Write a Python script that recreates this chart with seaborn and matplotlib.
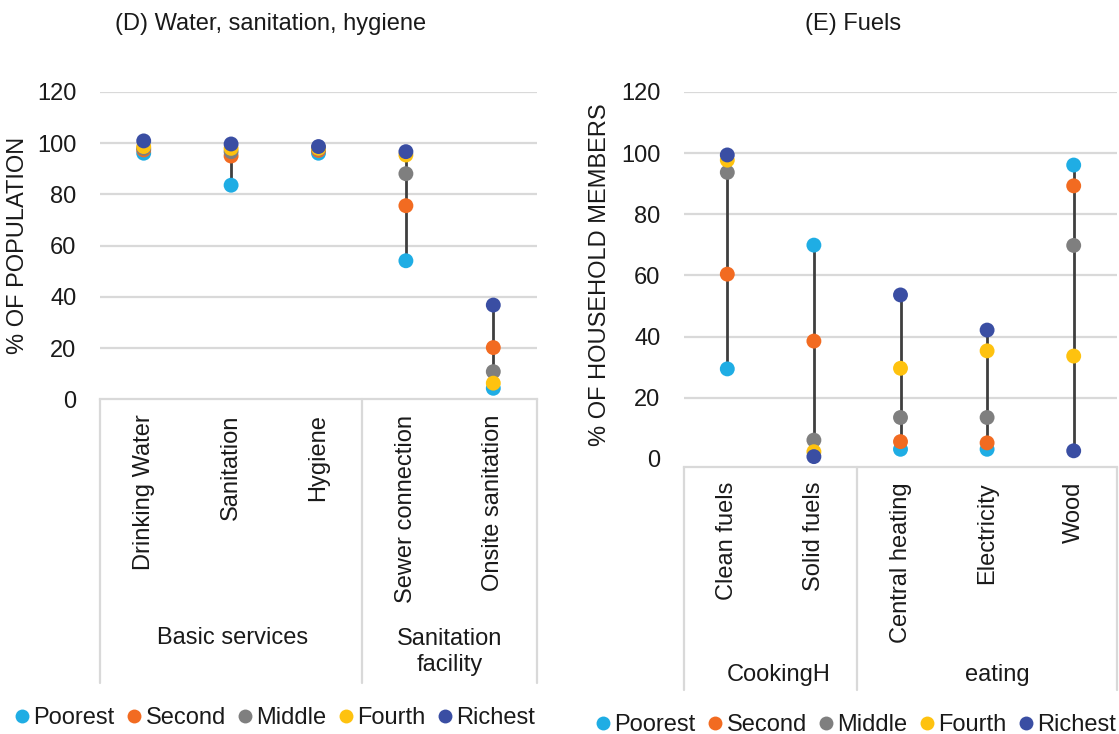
import numpy as np
import pandas as pd
import matplotlib
matplotlib.use("Agg")
import matplotlib.pyplot as plt
import matplotlib.transforms as mtrans
from matplotlib.lines import Line2D
import seaborn as sns

# ---------------- data ----------------
quintiles = ["Poorest", "Second", "Middle", "Fourth", "Richest"]
quintile_colors = ["#1FADE4", "#F26B21", "#7F7F7F", "#FEC20F", "#3A4EA3"]

wash_categories = ["Drinking Water", "Sanitation", "Hygiene", "Sewer connection", "Onsite sanitation"]
wash_groups = ["Basic services", "Sanitation\nfacility"]
wash_group_spans = [(0, 3), (3, 5)]
wash_poorest = [96.1, 83.6, 96.1, 54.1, 4.3]
wash_second = [97.4, 95.0, 97.2, 75.6, 20.2]
wash_middle = [98.0, 96.7, 97.8, 88.1, 10.8]
wash_fourth = [98.7, 98.0, 98.0, 95.4, 6.3]
wash_richest = [100.9, 99.7, 98.7, 96.7, 36.8]

fuel_categories = ["Clean fuels", "Solid fuels", "Central heating", "Electricity", "Wood"]
fuel_groups = ["CookingH", "eating"]
fuel_group_spans = [(0, 2), (2, 5)]
fuel_poorest = [29.4, 69.9, 3.1, 3.1, 96.1]
fuel_second = [60.4, 38.5, 5.6, 5.2, 89.3]
fuel_middle = [93.7, 6.1, 13.5, 13.5, 69.8]
fuel_fourth = [97.7, 2.3, 29.6, 35.3, 33.6]
fuel_richest = [99.4, 0.7, 53.6, 42.1, 2.6]

y_ticks = [0, 20, 40, 60, 80, 100, 120]

# ---------------- style ----------------
sns.set_theme(style="white")
plt.rcParams["font.family"] = ["Liberation Sans", "DejaVu Sans"]
TXT = "#1a1a1a"
GRID = "#D9D9D9"
FS = 17.0

W, H = 1119, 734
fig = plt.figure(figsize=(W / 100, H / 100), dpi=100)


def px_axes(x0, y0, x1, y1):
    return fig.add_axes([x0 / W, 1 - y1 / H, (x1 - x0) / W, (y1 - y0) / H])


def make_df(cats, series):
    rows = []
    for q, vals in zip(quintiles, series):
        for i, (c, v) in enumerate(zip(cats, vals)):
            rows.append({"pos": i, "category": c, "quintile": q, "value": v})
    return pd.DataFrame(rows)


def panel(ax, cats, series, groups, spans, ymin, box_bottom_frac, group_label_pos):
    df = make_df(cats, series)
    ax.set_xlim(-0.5, len(cats) - 0.5)
    ax.set_ylim(ymin, 120)
    for t in y_ticks[1:]:
        ax.axhline(t, color=GRID, lw=1.6, zorder=0)
    rng = df.groupby("pos")["value"].agg(["min", "max"])
    ax.vlines(rng.index, rng["min"], rng["max"], color="#3f3f3f", lw=2.0, zorder=2)
    sns.scatterplot(data=df, x="pos", y="value", hue="quintile", hue_order=quintiles,
                    palette=quintile_colors, s=115, edgecolor="none", linewidth=0,
                    legend=False, ax=ax, zorder=3)
    for sp in ["top", "right", "left"]:
        ax.spines[sp].set_visible(False)
    ax.spines["bottom"].set_color(GRID)
    ax.spines["bottom"].set_linewidth(1.6)
    ax.set_xlabel("")
    ax.set_ylabel("")
    ax.set_yticks(y_ticks)
    ax.set_yticklabels([str(t) for t in y_ticks], fontsize=FS, color=TXT)
    ax.set_xticks(range(len(cats)))
    ax.set_xticklabels(cats, rotation=90, fontsize=FS, color=TXT, va="top")
    ax.tick_params(axis="both", length=0)
    ax.tick_params(axis="y", pad=17)
    ax.tick_params(axis="x", pad=11)
    trans = mtrans.blended_transform_factory(ax.transData, ax.transAxes)
    bounds = sorted(set([s for s, e in spans] + [e for s, e in spans]))
    for b in bounds:
        ax.plot([b - 0.5, b - 0.5], [0, box_bottom_frac], transform=trans, color=GRID,
                lw=1.6, clip_on=False, zorder=1)
    for g, (s, e), (gx, gy) in zip(groups, spans, group_label_pos):
        fig.text(gx / W, 1 - gy / H, g, ha="center", va="center", fontsize=FS,
                 color=TXT, linespacing=1.2)


ax1 = px_axes(100, 92, 537, 399.3)
panel(ax1, wash_categories,
      [wash_poorest, wash_second, wash_middle, wash_fourth, wash_richest],
      wash_groups, wash_group_spans, 0, (399.3 - 683) / 307.3,
      [(233, 638), (450, 652)])

ax2 = px_axes(684, 92, 1117, 466.7)
panel(ax2, fuel_categories,
      [fuel_poorest, fuel_second, fuel_middle, fuel_fourth, fuel_richest],
      fuel_groups, fuel_group_spans, -2.6, (466.7 - 690) / 374.7,
      [(779, 675), (997, 675)])

# titles and axis labels
fig.text(271 / W, 1 - 24 / H, "(D) Water, sanitation, hygiene", ha="center", va="center",
         fontsize=FS, color=TXT)
fig.text(853 / W, 1 - 24 / H, "(E) Fuels", ha="center", va="center",
         fontsize=FS, color=TXT)
fig.text(18 / W, 1 - 245 / H, "% OF POPULATION", rotation=90, ha="center", va="center",
         fontsize=FS, color=TXT)
fig.text(600 / W, 1 - 275 / H, "% OF HOUSEHOLD MEMBERS", rotation=90, ha="center",
         va="center", fontsize=FS, color=TXT)

# legends
handles = [Line2D([], [], marker="o", ls="none", markersize=10, markerfacecolor=c,
                  markeredgecolor="none") for c in quintile_colors]
for cx, cy in [(273, 718), (854, 725)]:
    fig.legend(handles, quintiles, loc="center", bbox_to_anchor=(cx / W, 1 - cy / H),
               ncol=5, frameon=False, fontsize=FS, handletextpad=0.0,
               columnspacing=0.35, handlelength=0.95, borderaxespad=0,
               labelcolor=TXT)

fig.savefig("out.png", dpi=100)
